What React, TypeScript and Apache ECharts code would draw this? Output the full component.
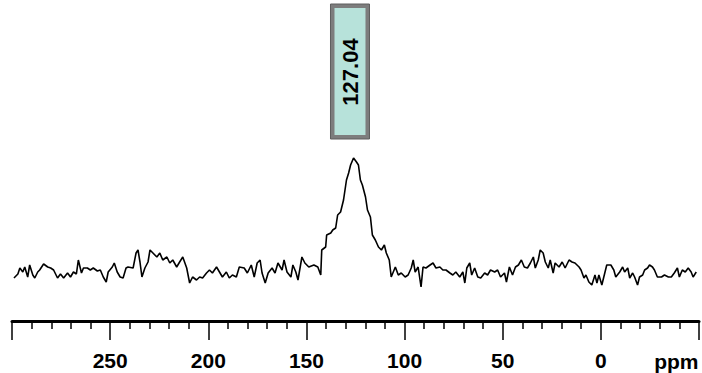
import React, { useEffect, useRef } from "react";
import * as echarts from "echarts";

const ppmValues: number[] = [
  299.0, 297.0, 296.0, 294.5, 293.5, 292.0, 291.0, 289.4, 288.4, 286.9, 285.9, 283.9, 281.8, 280.3, 278.8,
  276.8, 275.3, 273.7, 271.7, 270.2, 268.7, 267.2, 266.2, 264.6, 263.6, 261.6, 260.1, 258.6, 256.5, 255.0,
  253.5, 252.0, 251.0, 248.9, 247.9, 246.4, 244.9, 243.4, 241.9, 240.9, 238.3, 236.8, 235.8, 234.8, 233.8,
  232.3, 230.7, 229.7, 228.2, 226.2, 224.7, 223.2, 221.1, 219.6, 218.1, 216.1, 214.6, 213.0, 211.0, 209.5,
  208.0, 206.0, 204.4, 202.9, 200.9, 199.4, 197.9, 195.8, 194.3, 192.8, 190.8, 189.3, 187.7, 185.7, 184.2,
  181.7, 180.1, 178.1, 176.6, 175.1, 173.6, 172.6, 171.0, 169.5, 167.5, 166.0, 164.5, 162.4, 161.4, 159.9,
  157.9, 156.9, 155.4, 154.3, 152.3, 150.8, 148.8, 146.2, 144.2, 142.7, 142.2, 140.2, 139.7, 137.6, 136.6,
  135.1, 134.1, 132.6, 131.1, 129.6, 128.5, 127.5, 126.0, 124.5, 123.5, 122.5, 121.5, 119.9, 118.9, 117.4,
  116.4, 114.9, 113.3, 111.8, 110.3, 109.3, 107.8, 106.8, 104.7, 103.2, 101.7, 99.7, 98.2, 96.6, 95.6,
  94.6, 93.1, 91.6, 90.6, 89.1, 87.0, 85.5, 84.0, 82.0, 80.5, 78.9, 76.9, 75.4, 73.9, 71.9,
  70.3, 69.3, 68.3, 66.8, 65.8, 64.3, 62.7, 61.2, 59.2, 57.7, 56.2, 54.1, 52.6, 51.1, 49.1,
  48.1, 46.6, 45.0, 43.5, 42.0, 40.5, 39.0, 37.4, 35.9, 34.4, 33.4, 31.9, 30.9, 29.4, 28.3,
  26.8, 25.8, 24.3, 23.3, 21.3, 19.7, 18.2, 16.2, 14.7, 13.2, 11.1, 10.1, 8.6, 7.6, 6.1,
  4.6, 3.0, 2.0, 1.0, -0.5, -2.0, -3.0, -5.1, -6.6, -7.6, -9.6, -11.1, -12.1, -13.7, -14.7,
  -16.2, -17.2, -18.7, -19.7, -21.3, -22.3, -23.8, -24.8, -26.3, -27.3, -28.8, -30.9, -32.4, -34.4, -35.9,
  -37.4, -39.0, -40.0, -41.5, -43.0, -44.5, -46.0, -47.0, -48.6,
];

// Signal intensity (arbitrary units) at each point
const intensity: number[] = [
  12, 16, 22, 18, 23, 13, 25, 15, 12, 18, 20, 26, 23, 22, 20,
  12, 16, 12, 17, 13, 18, 16, 30, 17, 22, 22, 20, 22, 19, 20,
  13, 8, 18, 23, 27, 18, 13, 12, 22, 23, 22, 37, 40, 28, 13,
  22, 28, 40, 37, 33, 37, 30, 33, 27, 30, 23, 28, 33, 22, 7,
  13, 10, 13, 12, 17, 20, 17, 23, 18, 13, 18, 12, 15, 13, 23,
  22, 17, 25, 13, 27, 30, 17, 7, 17, 22, 17, 27, 20, 30, 18,
  13, 25, 18, 10, 33, 27, 23, 25, 23, 15, 40, 43, 55, 57, 60,
  62, 75, 78, 90, 110, 117, 125, 132, 128, 125, 110, 105, 93, 80, 73,
  55, 50, 43, 40, 45, 37, 30, 13, 23, 15, 17, 13, 15, 22, 30,
  18, 23, 3, 23, 22, 25, 27, 22, 23, 20, 20, 17, 15, 18, 13,
  18, 7, 22, 27, 15, 22, 13, 12, 17, 15, 20, 18, 20, 13, 17,
  8, 23, 15, 23, 25, 30, 23, 22, 27, 33, 22, 30, 40, 37, 28,
  22, 30, 17, 27, 23, 28, 22, 30, 28, 27, 23, 20, 12, 15, 8,
  5, 15, 7, 15, 5, 17, 25, 25, 20, 13, 18, 23, 18, 22, 12,
  17, 13, 5, 13, 15, 20, 22, 25, 23, 20, 13, 13, 15, 13, 13,
  17, 22, 13, 20, 18, 22, 18, 13, 18,
];

// Axis tick labels shown (multiples of 50 ppm)
const tickLabels: number[] = [250, 200, 150, 100, 50, 0];

// Peak annotation
const peakPpm = 127.04;
const peakLabel = "127.04";
const unitLabel = "ppm";

export default function App() {
  const ref = useRef<HTMLDivElement>(null);

  useEffect(() => {
    if (!ref.current) return;
    const chart = echarts.init(ref.current, undefined, { renderer: "svg" });
    const data = ppmValues.map((p, i) => [p, intensity[i]]);
    const font = "'Liberation Sans', Arial, sans-serif";

    chart.setOption({
      animation: false,
      backgroundColor: "#ffffff",
      grid: { left: 12, right: 0, top: 0, bottom: 52 },
      xAxis: {
        type: "value",
        inverse: true,
        min: -50,
        max: 300,
        interval: 50,
        axisLine: { show: true, onZero: false, lineStyle: { color: "#000", width: 3 } },
        axisTick: { show: true, length: 19, lineStyle: { color: "#000", width: 1.5 } },
        minorTick: { show: true, splitNumber: 5, length: 8, lineStyle: { color: "#000", width: 1.5 } },
        splitLine: { show: false },
        minorSplitLine: { show: false },
        axisLabel: {
          margin: 29,
          fontFamily: font,
          fontWeight: "bold",
          fontSize: 21,
          color: "#000",
          formatter: (v: number) => (tickLabels.includes(v) ? String(v) : ""),
        },
      },
      yAxis: {
        type: "value",
        min: -31,
        max: 290,
        show: false,
      },
      series: [
        {
          type: "line",
          data,
          symbol: "none",
          lineStyle: { color: "#000", width: 1.6 },
        },
      ],
    });

    const px = chart.convertToPixel({ xAxisIndex: 0 }, peakPpm) as number;
    const unitX = chart.convertToPixel({ xAxisIndex: 0 }, -40) as number;
    const boxW = 35;
    chart.setOption({
      graphic: [
        {
          type: "rect",
          shape: { x: px - 19, y: 6, width: boxW, height: 131 },
          style: { fill: "#b7e2da", stroke: "#7d7d7d", lineWidth: 4 },
        },
        {
          type: "rect",
          shape: { x: px - 21, y: 4, width: boxW + 4, height: 135 },
          style: { fill: "none", stroke: "#5f5f5f", lineWidth: 1 },
        },
        {
          type: "text",
          x: px - 1,
          y: 72,
          rotation: Math.PI / 2,
          style: {
            text: peakLabel,
            fontFamily: font,
            fontWeight: "bold",
            fontSize: 22,
            fill: "#000",
            align: "center",
            verticalAlign: "middle",
          },
        },
        {
          type: "text",
          x: unitX - 3,
          y: 361,
          style: {
            text: unitLabel,
            fontFamily: font,
            fontWeight: "bold",
            fontSize: 21,
            fill: "#000",
            align: "center",
            verticalAlign: "middle",
          },
        },
      ],
    });

    return () => chart.dispose();
  }, []);

  return (
    <div
      ref={ref}
      style={{ position: "fixed", left: 0, top: 0, width: 702, height: 373 }}
    />
  );
}
